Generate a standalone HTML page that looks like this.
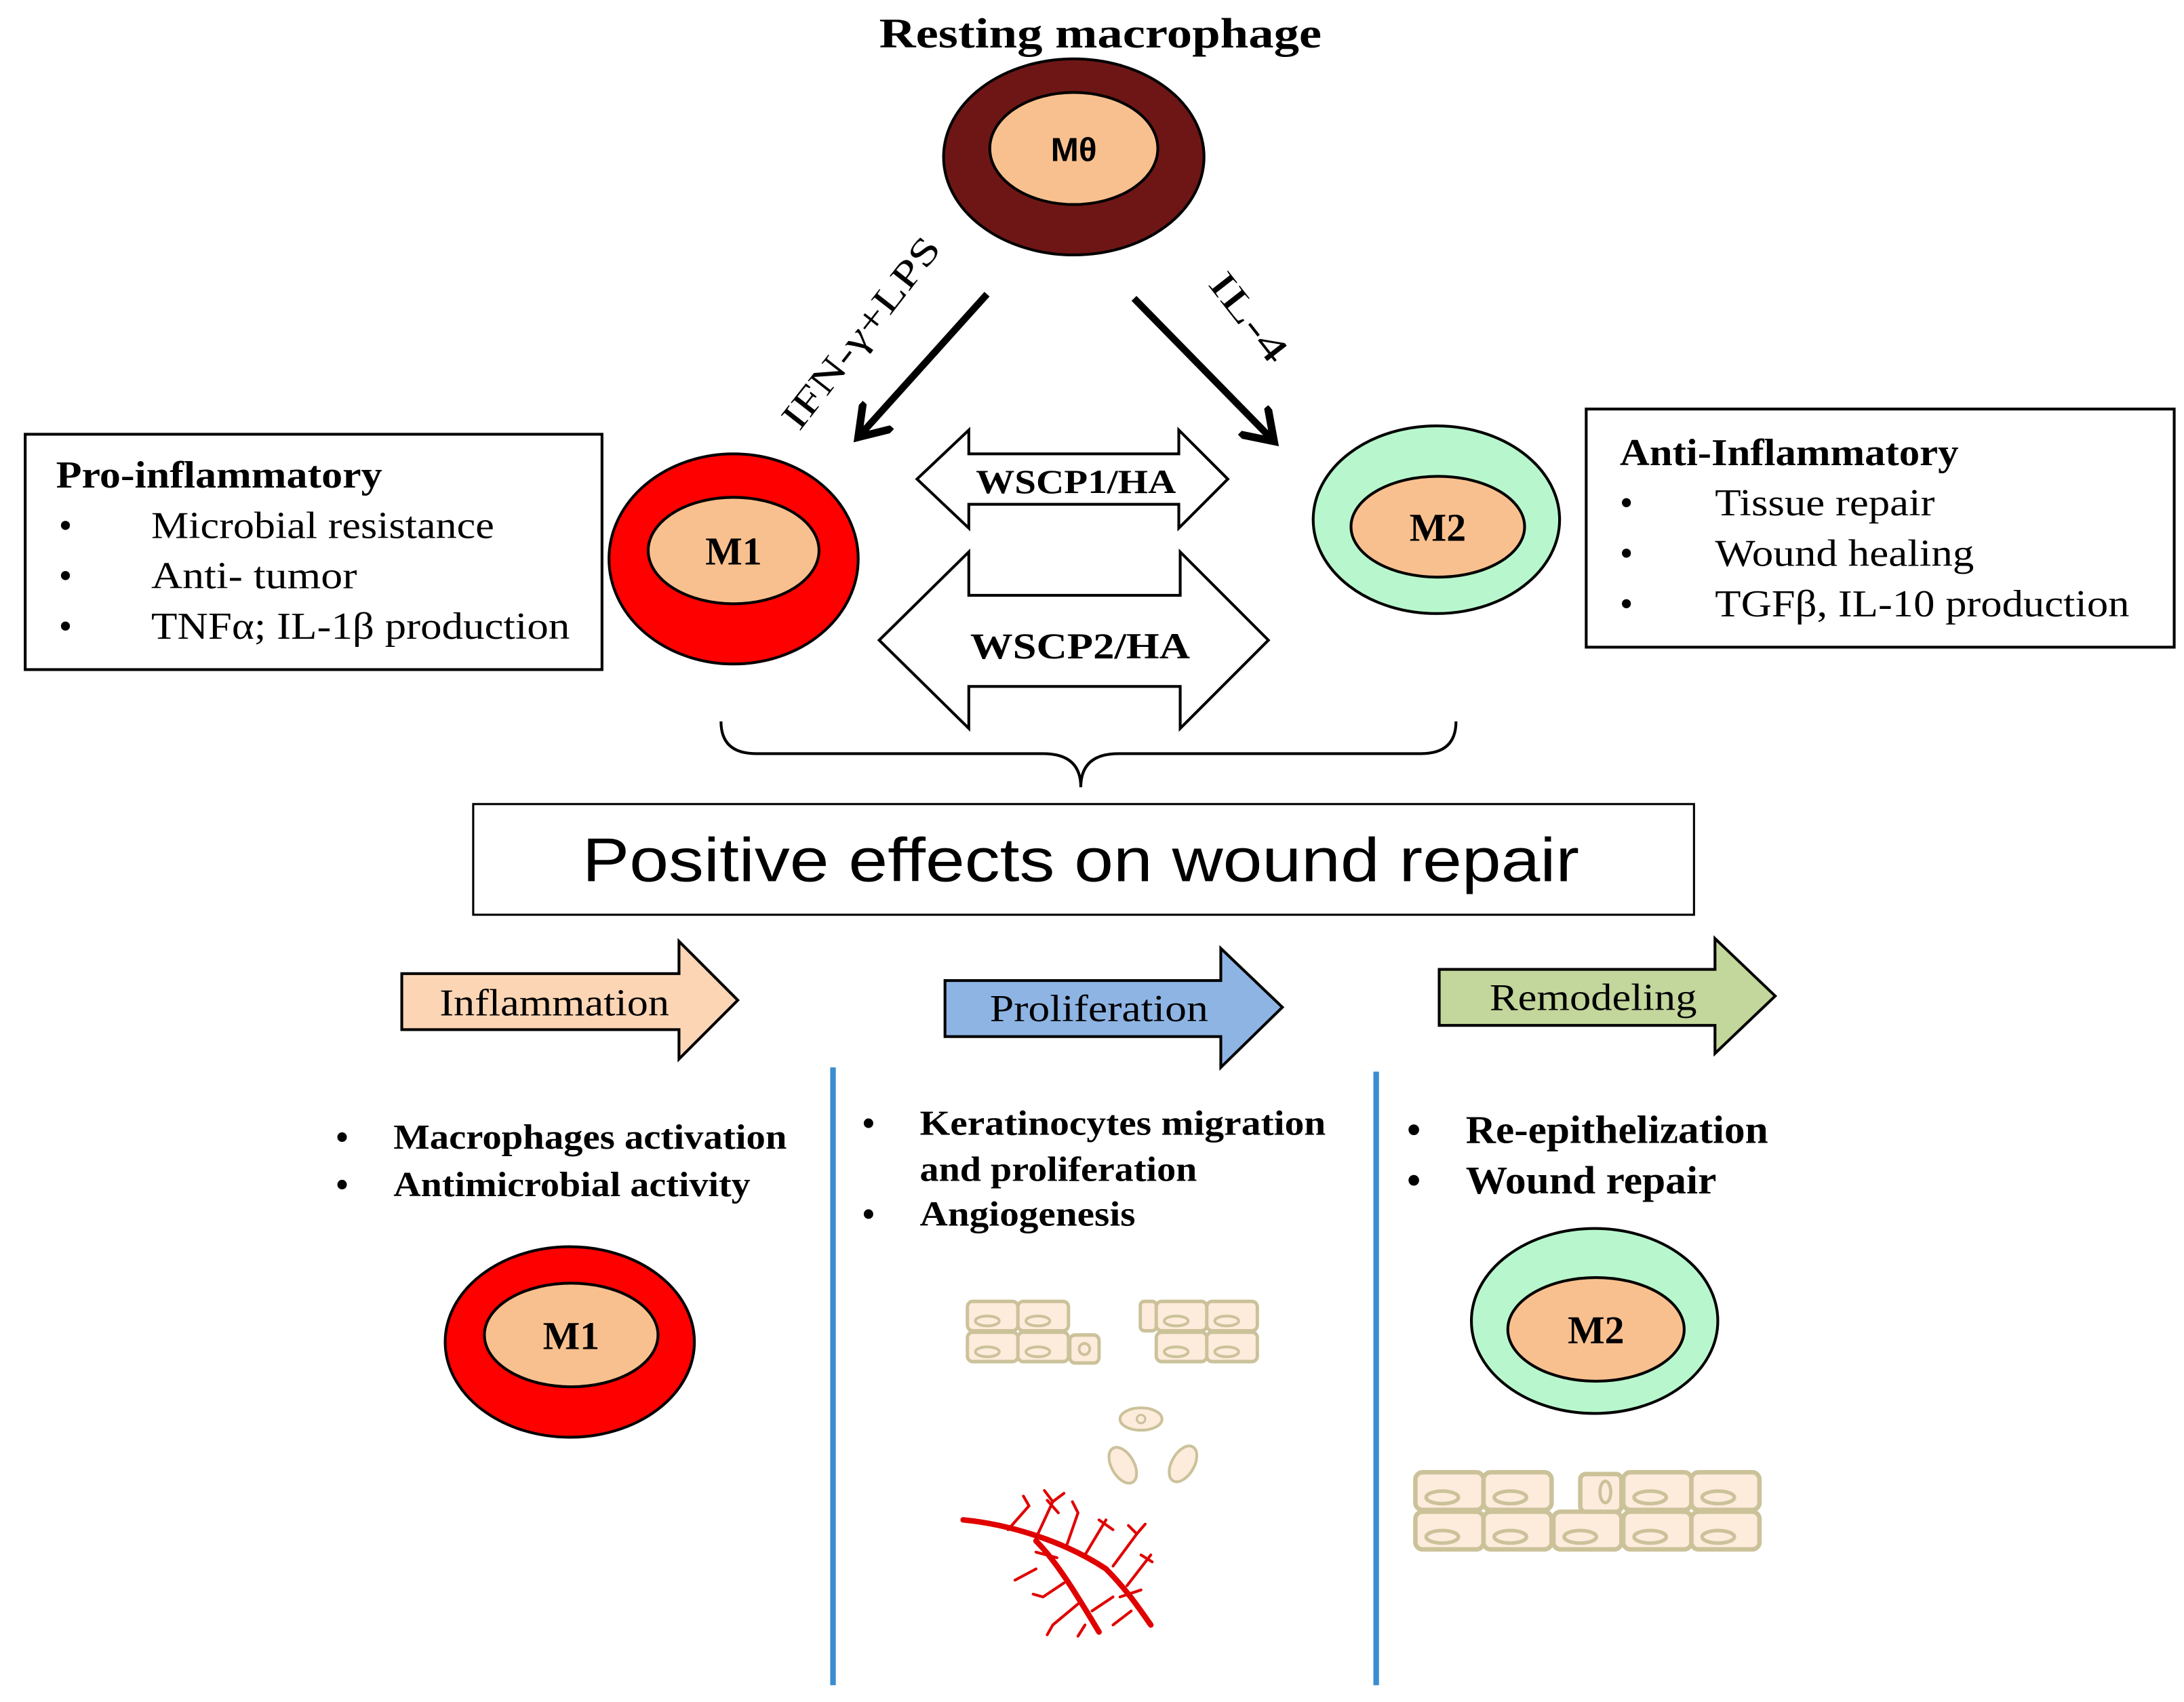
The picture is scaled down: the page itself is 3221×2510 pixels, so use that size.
<!DOCTYPE html>
<html><head><meta charset="utf-8"><style>
html,body{margin:0;padding:0;background:#fff;width:3221px;height:2510px;overflow:hidden}
svg{display:block}
.s{font-family:"Liberation Serif",serif}
.b{font-weight:bold}
</style></head><body>
<svg width="3221" height="2510" viewBox="0 0 1560 1215" preserveAspectRatio="none" xmlns="http://www.w3.org/2000/svg">
<defs>
<marker id="ah" markerWidth="6" markerHeight="6" refX="4" refY="3" orient="auto" markerUnits="strokeWidth">
<path d="M0.3,0.3 L4.3,3 L0.3,5.7" fill="none" stroke="#000" stroke-width="1.1" stroke-linecap="round"/>
</marker>
<g id="cell"><rect x="0" y="0" width="38" height="21" rx="4" fill="#fdebdc" stroke="#cbc29a" stroke-width="2.5"/><ellipse cx="15" cy="14" rx="9" ry="3.5" fill="none" stroke="#cbc29a" stroke-width="2"/></g>
</defs>

<text x="628" y="34" textLength="316" lengthAdjust="spacingAndGlyphs" class="s b" font-size="30">Resting macrophage</text>

<ellipse cx="767" cy="112" rx="93" ry="70" fill="#6e1616" stroke="#000" stroke-width="2"/>
<ellipse cx="767" cy="106" rx="60" ry="40" fill="#f9c08f" stroke="#000" stroke-width="2"/>
<text x="767" y="115" text-anchor="middle" font-family="Liberation Sans,sans-serif" font-weight="bold" font-size="24">Mθ</text>

<line x1="705" y1="210" x2="614" y2="311" stroke="#000" stroke-width="5" marker-end="url(#ah)"/>
<line x1="810" y1="213" x2="909" y2="314" stroke="#000" stroke-width="5" marker-end="url(#ah)"/>
<text transform="translate(622,243) rotate(-52)" x="-83" y="0" textLength="166" lengthAdjust="spacingAndGlyphs" class="s" font-size="27">IFN-γ+LPS</text>
<text transform="translate(885,232) rotate(52)" x="-37" y="0" textLength="74" lengthAdjust="spacingAndGlyphs" class="s" font-size="27">IL-4</text>

<rect x="18" y="310" width="412" height="168" fill="#fff" stroke="#000" stroke-width="2"/>
<text x="40" y="348" textLength="233" lengthAdjust="spacingAndGlyphs" class="s b" font-size="27">Pro-inflammatory</text>
<g class="s" font-size="27">
<text x="42" y="384">•</text><text x="108" y="384" textLength="245" lengthAdjust="spacingAndGlyphs">Microbial resistance</text>
<text x="42" y="420">•</text><text x="108" y="420" textLength="147" lengthAdjust="spacingAndGlyphs">Anti- tumor</text>
<text x="42" y="456">•</text><text x="108" y="456" textLength="299" lengthAdjust="spacingAndGlyphs">TNFα; IL-1β production</text>
</g>

<rect x="1133" y="292" width="420" height="170" fill="#fff" stroke="#000" stroke-width="2"/>
<text x="1157" y="332" textLength="242" lengthAdjust="spacingAndGlyphs" class="s b" font-size="27">Anti-Inflammatory</text>
<g class="s" font-size="27">
<text x="1157" y="368">•</text><text x="1225" y="368" textLength="157" lengthAdjust="spacingAndGlyphs">Tissue repair</text>
<text x="1157" y="404">•</text><text x="1225" y="404" textLength="185" lengthAdjust="spacingAndGlyphs">Wound healing</text>
<text x="1157" y="440">•</text><text x="1225" y="440" textLength="296" lengthAdjust="spacingAndGlyphs">TGFβ, IL-10 production</text>
</g>

<ellipse cx="524" cy="399" rx="89" ry="75" fill="#ff0000" stroke="#000" stroke-width="2"/>
<ellipse cx="524" cy="393" rx="61" ry="38" fill="#f9c08f" stroke="#000" stroke-width="2"/>
<text x="524" y="403" text-anchor="middle" class="s b" font-size="28">M1</text>

<ellipse cx="1026" cy="371" rx="88" ry="67" fill="#b8f7cd" stroke="#000" stroke-width="2"/>
<ellipse cx="1027" cy="376" rx="62" ry="36" fill="#f9c08f" stroke="#000" stroke-width="2"/>
<text x="1027" y="386" text-anchor="middle" class="s b" font-size="28">M2</text>

<path d="M655,342 L692,307 L692,324 L842,324 L842,307 L877,342 L842,377 L842,360 L692,360 L692,377 Z" fill="#fff" stroke="#000" stroke-width="2"/>
<text x="697" y="352" textLength="143" lengthAdjust="spacingAndGlyphs" class="s b" font-size="24">WSCP1/HA</text>
<path d="M628,457 L692,394 L692,425 L843,425 L843,394 L906,457 L843,520 L843,490 L692,490 L692,520 Z" fill="#fff" stroke="#000" stroke-width="2"/>
<text x="693" y="470" textLength="157" lengthAdjust="spacingAndGlyphs" class="s b" font-size="26">WSCP2/HA</text>

<path d="M515,515 Q515,538 540,538 L745,538 Q772,538 772,562 Q772,538 799,538 L1015,538 Q1040,538 1040,515" fill="none" stroke="#000" stroke-width="2"/>

<rect x="338" y="574" width="872" height="79" fill="#fff" stroke="#000" stroke-width="1.5"/>
<text x="416" y="629" textLength="712" lengthAdjust="spacingAndGlyphs" font-family="Liberation Sans,sans-serif" font-size="44">Positive effects on wound repair</text>

<path d="M287,695 L485,695 L485,672 L527,714 L485,756 L485,735 L287,735 Z" fill="#fcd5b5" stroke="#000" stroke-width="2"/>
<text x="314" y="725" textLength="164" lengthAdjust="spacingAndGlyphs" class="s" font-size="27">Inflammation</text>
<path d="M675,700 L872,700 L872,677 L916,719 L872,762 L872,740 L675,740 Z" fill="#8eb4e3" stroke="#000" stroke-width="2"/>
<text x="707" y="729" textLength="156" lengthAdjust="spacingAndGlyphs" class="s" font-size="27">Proliferation</text>
<path d="M1028,692 L1225,692 L1225,670 L1268,711 L1225,752 L1225,732 L1028,732 Z" fill="#c3d69b" stroke="#000" stroke-width="2"/>
<text x="1064" y="721" textLength="148" lengthAdjust="spacingAndGlyphs" class="s" font-size="27">Remodeling</text>

<line x1="595" y1="762" x2="595" y2="1203" stroke="#3a8dd0" stroke-width="4"/>
<line x1="983" y1="765" x2="983" y2="1203" stroke="#3a8dd0" stroke-width="4"/>

<g class="s b" font-size="25">
<text x="240" y="820">•</text><text x="281" y="820" textLength="281" lengthAdjust="spacingAndGlyphs">Macrophages activation</text>
<text x="240" y="854">•</text><text x="281" y="854" textLength="255" lengthAdjust="spacingAndGlyphs">Antimicrobial activity</text>
<text x="616" y="810">•</text><text x="657" y="810" textLength="290" lengthAdjust="spacingAndGlyphs">Keratinocytes  migration</text>
<text x="657" y="843" textLength="198" lengthAdjust="spacingAndGlyphs">and proliferation</text>
<text x="616" y="875">•</text><text x="657" y="875" textLength="154" lengthAdjust="spacingAndGlyphs">Angiogenesis</text>
</g>
<g class="s b" font-size="28">
<text x="1005" y="816">•</text><text x="1047" y="816" textLength="216" lengthAdjust="spacingAndGlyphs">Re-epithelization</text>
<text x="1005" y="852">•</text><text x="1047" y="852" textLength="179" lengthAdjust="spacingAndGlyphs">Wound repair</text>
</g>

<ellipse cx="407" cy="958" rx="89" ry="68" fill="#ff0000" stroke="#000" stroke-width="2"/>
<ellipse cx="408" cy="953" rx="62" ry="37" fill="#f9c08f" stroke="#000" stroke-width="2"/>
<text x="408" y="963" text-anchor="middle" class="s b" font-size="28">M1</text>
<ellipse cx="1139" cy="943" rx="88" ry="66" fill="#b8f7cd" stroke="#000" stroke-width="2"/>
<ellipse cx="1140" cy="949" rx="63" ry="37" fill="#f9c08f" stroke="#000" stroke-width="2"/>
<text x="1140" y="959" text-anchor="middle" class="s b" font-size="28">M2</text>

<g transform="translate(691,929) scale(0.95,1)">
<use href="#cell" x="0" y="0"/><use href="#cell" x="38" y="0"/>
<use href="#cell" x="0" y="22"/><use href="#cell" x="38" y="22"/>
<rect x="77" y="24" width="22" height="20" rx="4" fill="#fdebdc" stroke="#cbc29a" stroke-width="2.5"/><circle cx="88" cy="34" r="4" fill="none" stroke="#cbc29a" stroke-width="2"/>
<rect x="130" y="0" width="12" height="21" rx="3" fill="#fdebdc" stroke="#cbc29a" stroke-width="2.5"/>
<use href="#cell" x="142" y="0"/><use href="#cell" x="180" y="0"/>
<use href="#cell" x="142" y="22"/><use href="#cell" x="180" y="22"/>
</g>
<ellipse cx="815" cy="1013" rx="15" ry="8" fill="#fdebdc" stroke="#cbc29a" stroke-width="2"/><circle cx="815" cy="1013" r="3" fill="none" stroke="#cbc29a" stroke-width="1.5"/>
<ellipse cx="802" cy="1046" rx="8" ry="14" transform="rotate(-30 802 1046)" fill="#fdebdc" stroke="#cbc29a" stroke-width="2"/>
<ellipse cx="845" cy="1045" rx="8" ry="14" transform="rotate(30 845 1045)" fill="#fdebdc" stroke="#cbc29a" stroke-width="2"/>
<g stroke="#e00000" fill="none" stroke-linecap="round">
<path d="M688,1085 C720,1088 760,1100 790,1120 C805,1135 815,1150 822,1160" stroke-width="4"/>
<path d="M740,1100 C755,1115 770,1140 785,1165" stroke-width="4"/>
<path d="M720,1092 L735,1075 M740,1098 L752,1072 M748,1071 L756,1080 M762,1103 L770,1080 M775,1110 L790,1085 M785,1085 L795,1092 M795,1118 L812,1095 M805,1132 L822,1110 M815,1110 L823,1115 M760,1130 L745,1140 M770,1145 L752,1160 M740,1120 L725,1128 M780,1150 L795,1140 M795,1160 L808,1150 M775,1160 L770,1168 M800,1140 L815,1135 M755,1112 L740,1108 M752,1072 L746,1064 M752,1072 L760,1066 M770,1080 L766,1072 M812,1095 L818,1088 M812,1095 L806,1089 M735,1075 L731,1068 M745,1140 L738,1138 M752,1160 L748,1167" stroke-width="2"/>
</g>

<g transform="translate(1011,1051) scale(1.28,1.28)">
<use href="#cell" x="0" y="0"/><use href="#cell" x="38" y="0"/>
<use href="#cell" x="0" y="22"/><use href="#cell" x="38" y="22"/><use href="#cell" x="77" y="22"/>
<rect x="92" y="1" width="23" height="21" rx="3" fill="#fdebdc" stroke="#cbc29a" stroke-width="2.5"/><ellipse cx="106" cy="11" rx="3" ry="6" fill="none" stroke="#cbc29a" stroke-width="1.8"/>
<use href="#cell" x="116" y="0"/><use href="#cell" x="154" y="0"/>
<use href="#cell" x="116" y="22"/><use href="#cell" x="154" y="22"/>
</g>
</svg>
</body></html>
